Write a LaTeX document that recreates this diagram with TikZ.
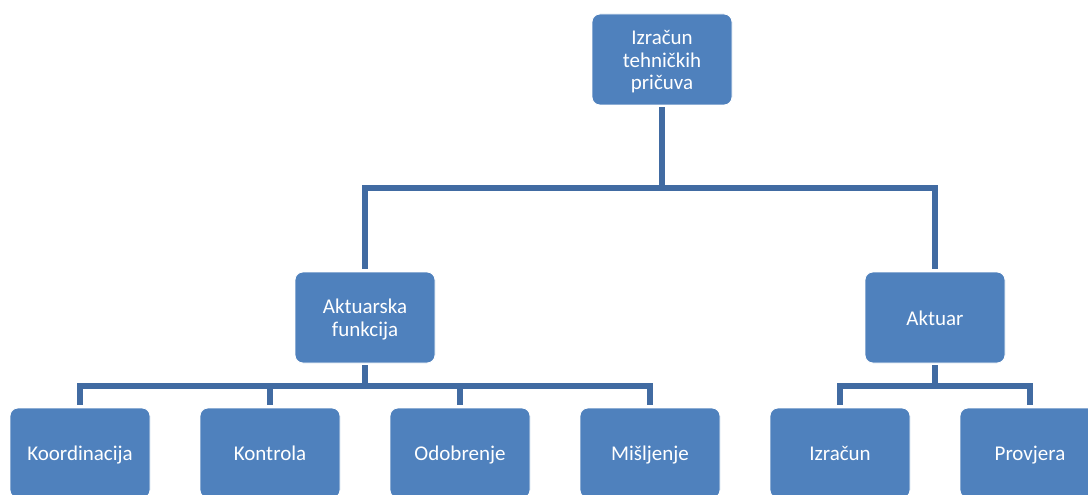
\documentclass[tikz,border=0pt]{standalone}
\usepackage{fontspec}
\setmainfont{Carlito}
\definecolor{boxfill}{RGB}{79,129,189}
\definecolor{connblue}{RGB}{65,107,162}
\newcommand{\ls}{\rule[-4pt]{0pt}{23pt}}
\begin{document}
\begin{tikzpicture}[x={(1pt,0pt)},y={(0pt,-1pt)},
  orgbox/.style={rectangle, rounded corners=8pt, fill=boxfill, draw=white, line width=0.8pt,
    minimum width=140pt, minimum height=91pt, inner sep=2pt, text=white, align=center,
    font=\fontsize{21pt}{23pt}\selectfont},
  conn/.style={draw=connblue, line width=5.4pt, line join=miter, line cap=rect}]
\useasboundingbox (0,0) rectangle (1088,495);
\clip (0,0) rectangle (1088,495);
\node[orgbox] (top) at (662,59.5) {\ls Izračun\\\ls tehničkih\\\ls pričuva};
\node[orgbox] (akt) at (365,317.5) {\ls Aktuarska\\\ls funkcija};
\node[orgbox] (aktuar) at (935,317.5) {\ls Aktuar};
\node[orgbox, minimum height=90pt] (k1) at (80,453) {\ls Koordinacija};
\node[orgbox, minimum height=90pt] (k2) at (270,453) {\ls Kontrola};
\node[orgbox, minimum height=90pt] (k3) at (460,453) {\ls Odobrenje};
\node[orgbox, minimum height=90pt] (k4) at (650,453) {\ls Mišljenje};
\node[orgbox, minimum height=90pt] (a1) at (840,453) {\ls Izračun};
\node[orgbox, minimum height=90pt] (a2) at (1030,453) {\ls Provjera};
\coordinate (bus1) at (662,188);
\coordinate (bus2) at (365,386);
\coordinate (bus3) at (935,386);
% top level
\draw[conn] ([yshift=-4pt]top.south) -- (bus1);
\draw[conn] ([yshift=5pt]akt.north) |- (bus1) -| ([yshift=5pt]aktuar.north);
% Aktuarska funkcija
\draw[conn] ([yshift=-4pt]akt.south) -- (bus2);
\draw[conn] ([yshift=5pt]k1.north) |- (bus2) -| ([yshift=5pt]k4.north);
\draw[conn] ([yshift=5pt]k2.north) -- (k2.north |- bus2);
\draw[conn] ([yshift=5pt]k3.north) -- (k3.north |- bus2);
% Aktuar
\draw[conn] ([yshift=-4pt]aktuar.south) -- (bus3);
\draw[conn] ([yshift=5pt]a1.north) |- (bus3) -| ([yshift=5pt]a2.north);
\end{tikzpicture}
\end{document}
